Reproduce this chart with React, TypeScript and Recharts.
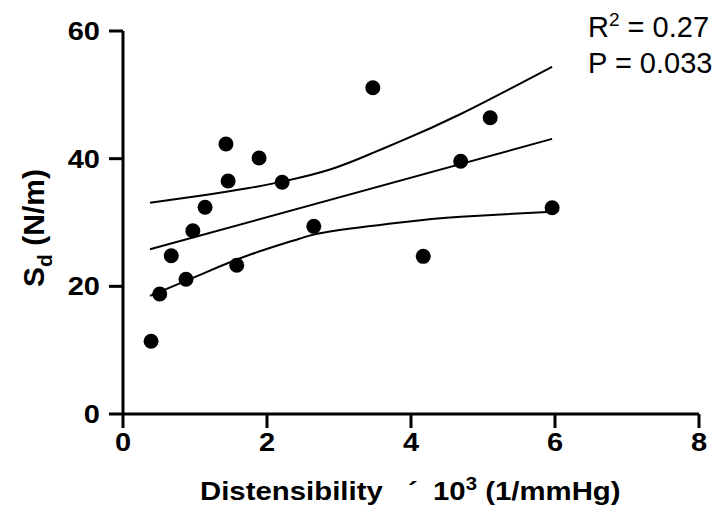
import { ComposedChart, Scatter, Line, XAxis, YAxis, Label } from "recharts";

// distensibility (x 10^3, 1/mmHg) vs Sd (N/m)
const distX = [0.39, 0.51, 0.67, 0.875, 0.97, 1.14, 1.43, 1.46, 1.58, 1.89, 2.21, 2.65, 3.47, 4.17, 4.69, 5.1, 5.96];
const sdY = [11.4, 18.8, 24.8, 21.1, 28.7, 32.4, 42.3, 36.5, 23.3, 40.1, 36.3, 29.4, 51.1, 24.7, 39.6, 46.4, 32.3];

// regression line and 95% band
const fitX = [0.375, 5.96];
const fitY = [25.8, 43.1];
const upperX = [0.375, 1.07, 1.75, 2.21, 2.875, 3.47, 3.85, 4.69, 5.96];
const upperY = [33.1, 34.2, 35.4, 36.4, 38.3, 40.9, 42.7, 47.0, 54.4];
const lowerX = [0.375, 1.07, 1.75, 2.46, 2.875, 3.85, 4.69, 5.96];
const lowerY = [18.5, 21.8, 24.9, 27.5, 28.6, 30.0, 30.9, 31.7];

const xTicks = [0, 2, 4, 6, 8];
const yTicks = [0, 20, 40, 60];

const toPts = (xs: number[], ys: number[]) => xs.map((x, i) => ({ x, y: ys[i] }));
const points = toPts(distX, sdY);
const fit = toPts(fitX, fitY);
const upper = toPts(upperX, upperY);
const lower = toPts(lowerX, lowerY);

const FONT = "'Liberation Sans', Arial, sans-serif";

// the tick numbers in the figure are wide bold digits
const Tick = (props: any) => {
  const { x, y, payload, textAnchor, vertical } = props;
  return (
    <text
      transform={`translate(${x},${y}) scale(1.16,1)`}
      textAnchor={textAnchor}
      dy={vertical ? "0.36em" : "0.71em"}
      fontSize={25}
      fontWeight={700}
      fontFamily={FONT}
      fill="#000"
    >
      {payload.value}
    </text>
  );
};

const XLabel = () => {
  const common = { fontSize: 26, fontWeight: 700, fontFamily: FONT, fill: "#000" };
  const y = 500;
  return (
    <g>
      <text transform={`translate(200,${y}) scale(1.13,1)`} {...common}>Distensibility</text>
      <text transform={`translate(408,${y}) scale(1.13,1)`} {...common}>´</text>
      <text transform={`translate(433,${y}) scale(1.13,1)`} {...common}>
        10<tspan dy={-10} fontSize={18}>3</tspan><tspan dy={10}> (1/mmHg)</tspan>
      </text>
    </g>
  );
};

const YLabel = () => (
  <text
    x={0}
    y={0}
    transform="translate(44, 228) rotate(-90)"
    textAnchor="middle"
    fontSize={30}
    fontWeight={700}
    fontFamily={FONT}
    fill="#000"
  >
    S<tspan dy={8} fontSize={21}>d</tspan><tspan dy={-8}> (N/m)</tspan>
  </text>
);

export default function App() {
  return (
    <div style={{ position: "absolute", left: 0, top: 0, width: 723, height: 521, background: "#fff" }}>
      <ComposedChart width={723} height={521} margin={{ top: 31, right: 24, bottom: 67, left: 63 }}>
        <XAxis
          dataKey="x"
          type="number"
          domain={[0, 8]}
          ticks={xTicks}
          height={40}
          axisLine={{ stroke: "#000", strokeWidth: 3 }}
          tickLine={{ stroke: "#000", strokeWidth: 3 }}
          tickSize={14}
          tickMargin={5}
          tick={<Tick />}
        >
          <Label content={<XLabel />} />
        </XAxis>
        <YAxis
          dataKey="y"
          type="number"
          domain={[0, 60]}
          ticks={yTicks}
          width={60}
          axisLine={{ stroke: "#000", strokeWidth: 3 }}
          tickLine={{ stroke: "#000", strokeWidth: 3 }}
          tickSize={14}
          tickMargin={9}
          tick={<Tick vertical />}
        >
          <Label content={<YLabel />} />
        </YAxis>
        <Line data={upper} dataKey="y" type="natural" stroke="#000" strokeWidth={2} dot={false} isAnimationActive={false} />
        <Line data={fit} dataKey="y" type="linear" stroke="#000" strokeWidth={2} dot={false} isAnimationActive={false} />
        <Line data={lower} dataKey="y" type="natural" stroke="#000" strokeWidth={2} dot={false} isAnimationActive={false} />
        <Scatter data={points} dataKey="y" fill="#000" isAnimationActive={false}
          shape={(p: any) => <circle cx={p.cx} cy={p.cy} r={7.5} fill="#000" />} />
      </ComposedChart>
      <svg width={723} height={521} style={{ position: "absolute", left: 0, top: 0, pointerEvents: "none" }}>
        <text x={588} y={37} fontSize={29} fontFamily={FONT} fill="#000">
          R<tspan dy={-11} fontSize={19}>2</tspan><tspan dy={11}> = 0.27</tspan>
        </text>
        <text x={588} y={73} fontSize={29} fontFamily={FONT} fill="#000">P = 0.033</text>
      </svg>
    </div>
  );
}
